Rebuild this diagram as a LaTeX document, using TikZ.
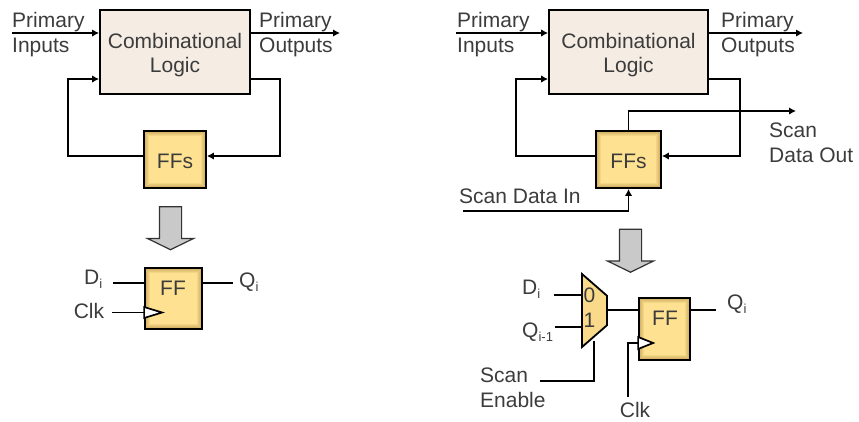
\documentclass[tikz,border=0pt]{standalone}
\usepackage{fontspec}
\setmainfont{Liberation Sans}
\usetikzlibrary{shapes.geometric, shapes.arrows, arrows.meta}
\definecolor{logicfill}{HTML}{F5EDE4}
\definecolor{fffill}{HTML}{FFE291}
\definecolor{ffedge}{HTML}{A8823A}
\definecolor{textgray}{HTML}{3C3C3C}
\definecolor{grayarrow}{HTML}{C9C9C9}
\newcommand{\subtxt}[1]{\raisebox{-4pt}{\fontsize{13}{13}\selectfont #1}}
\tikzset{glow/.style={path picture={
  \foreach \w in {2,4,...,10}
    \draw[ffedge, opacity=.13, line width=\w pt] (path picture bounding box.south west) rectangle (path picture bounding box.north east);}}}
\tikzstyle{label} = [text=textgray, inner sep=0pt, align=left, font=\fontsize{21}{25}\selectfont]
\tikzstyle{logic} = [rectangle, draw=black, line width=1.8pt, fill=logicfill, text=textgray, align=center, inner sep=0pt, font=\fontsize{21}{24}\selectfont]
\tikzstyle{ffbox} = [rectangle, draw=black, line width=1.8pt, fill=fffill, glow, text=textgray, inner sep=0pt, font=\fontsize{21}{25}\selectfont]
\tikzstyle{muxbox} = [trapezium, trapezium stretches=true, trapezium angle=53.5, rotate=-90, draw=black, line width=1.8pt, fill=fffill!92!ffedge, inner sep=1pt, minimum width=73pt, minimum height=25pt]
\tikzstyle{bigarrow} = [single arrow, single arrow head extend=12pt, single arrow tip angle=128, single arrow head indent=0pt, rotate=-90, draw=black!80, line width=1.2pt, fill=grayarrow, inner xsep=0pt, inner ysep=10.5pt, minimum height=43pt]
\tikzstyle{arrow} = [line width=1.7pt,-{Latex[length=7pt,width=7.5pt]}]
\tikzstyle{wire} = [line width=1.7pt]
\tikzstyle{clktri} = [line width=1.7pt, fill=white]
\begin{document}
\begin{tikzpicture}[x=1pt, y=-1pt]
\useasboundingbox (0,0) rectangle (859,421);

% left picture
\node (logicA) [logic, minimum width=150pt, minimum height=84pt] at (175,52) {\rule{0pt}{22pt}Combinational\\Logic};
\node (ffsA) [ffbox, minimum width=62pt, minimum height=57pt] at (175,159.5) {\rule{0pt}{19pt}FFs};
\node (piA) [label, anchor=west] at (12,34.5) {Primary\\Inputs};
\node (poA) [label, anchor=west] at (259,34.5) {Primary\\Outputs};
\coordinate (inA) at (12,33);
\coordinate (outA) at (340,33);
\coordinate (backA) at (68,79);
\coordinate (loopA) at (280,79);
\coordinate (midA) at (0,156);

\draw [arrow] (inA) -- (inA -| logicA.west);
\draw [arrow] (outA -| logicA.east) -- (outA);
\draw [arrow] (ffsA.west |- midA) -- (backA |- midA) -- (backA) -- (backA -| logicA.west);
\draw [arrow] (loopA -| logicA.east) -- (loopA) -- (loopA |- midA) -- (ffsA.east |- midA);

\node (downA) [bigarrow] at (170.5,225.5) {};

\node (ffA) [ffbox, minimum width=57pt, minimum height=61pt] at (173.5,298.5) {};
\node (ffnameA) [label] at (173,288) {FF};
\node (diA) [label, anchor=west] at (84,279) {D\subtxt{i}};
\node (clkA) [label] at (89,311) {Clk};
\node (qiA) [label, anchor=west] at (239,282) {Q\subtxt{i}};
\coordinate (dinA) at (113,283);
\coordinate (cinA) at (112,312.5);
\coordinate (qoutA) at (233,283);

\draw [wire] (dinA) -- (dinA -| ffA.west);
\draw [wire] (cinA) -- (cinA -| ffA.west);
\draw [wire] (qoutA -| ffA.east) -- (qoutA);
\draw [clktri] (cinA -| ffA.west) ++(0,-5.5) -- ++(18,5.5) -- ++(-18,5.5) -- cycle;

% right picture
\node (logicB) [logic, minimum width=159pt, minimum height=84pt] at (628.5,52) {\rule{0pt}{22pt}Combinational\\Logic};
\node (ffsB) [ffbox, minimum width=65pt, minimum height=57pt] at (628.5,159.5) {\rule{0pt}{19pt}FFs};
\node (piB) [label, anchor=west] at (457,34.5) {Primary\\Inputs};
\node (poB) [label, anchor=west] at (721,34.5) {Primary\\Outputs};
\node (soB) [label, anchor=west] at (769,142.5) {Scan\\Data Out};
\node (siB) [label, anchor=west] at (459,196) {Scan Data In};
\coordinate (inB) at (456,33);
\coordinate (outB) at (803,33);
\coordinate (backB) at (516,79);
\coordinate (loopB) at (740,79);
\coordinate (midB) at (0,156);
\coordinate (scanoutB) at (796,111);
\coordinate (scaninB) at (463,211);

\draw [arrow] (inB) -- (inB -| logicB.west);
\draw [arrow] (outB -| logicB.east) -- (outB);
\draw [arrow] (ffsB.north) -- (ffsB.north |- scanoutB) -- (scanoutB);
\draw [arrow] (ffsB.west |- midB) -- (backB |- midB) -- (backB) -- (backB -| logicB.west);
\draw [arrow] (loopB -| logicB.east) -- (loopB) -- (loopB |- midB) -- (ffsB.east |- midB);
\draw [arrow] (scaninB) -- (scaninB -| ffsB.south) -- (ffsB.south);

\node (downB) [bigarrow] at (630.5,248) {};

\node (muxB) [muxbox] at (594.5,310.5) {};
\node (zeroB) [label] at (589.5,295) {0};
\node (oneB) [label] at (589.5,320) {1};
\node (ffB) [ffbox, minimum width=51pt, minimum height=62pt] at (664.5,329) {};
\node (ffnameB) [label] at (665,318) {FF};
\node (diB) [label, anchor=west] at (522,289) {D\subtxt{i}};
\node (qimB) [label, anchor=west] at (522,332) {Q\subtxt{i-1}};
\node (qiB) [label, anchor=west] at (727,304) {Q\subtxt{i}};
\node (seB) [label, anchor=west] at (480,388) {Scan\\Enable};
\node (clkB) [label] at (635,409.5) {Clk};
\coordinate (dinB) at (554,295);
\coordinate (qinB) at (555,327);
\coordinate (muxoutB) at (0,310);
\coordinate (qoutB) at (716,310);
\coordinate (selB) at (594,381);
\coordinate (seltopB) at (594,341);
\coordinate (seinB) at (540,381);
\coordinate (cinB) at (628,397);
\coordinate (cturnB) at (628,343);

\draw [wire] (dinB) -- (dinB -| muxB.south);
\draw [wire] (qinB) -- (qinB -| muxB.south);
\draw [wire] (muxoutB -| muxB.north) -- (muxoutB -| ffB.west);
\draw [wire] (qoutB -| ffB.east) -- (qoutB);
\draw [wire] (seinB) -- (selB) -- (seltopB);
\draw [wire] (cinB) -- (cturnB) -- (cturnB -| ffB.west);
\draw [clktri] (cturnB -| ffB.west) ++(0,-6) -- ++(15,6) -- ++(-15,6) -- cycle;
\end{tikzpicture}
\end{document}
